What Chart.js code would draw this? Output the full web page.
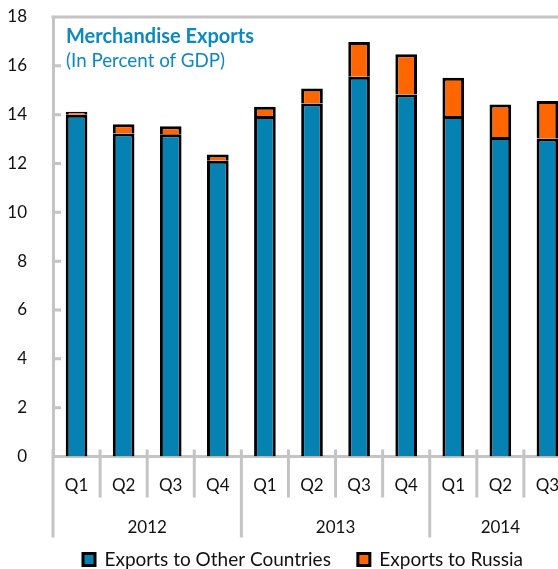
<!DOCTYPE html>
<html>
<head>
<meta charset="utf-8">
<script src="https://cdn.jsdelivr.net/npm/chart.js@4"></script>
<style>
  html, body { margin: 0; padding: 0; background: #fff; overflow: hidden; }
  #wrap { position: relative; width: 606px; height: 579px; }
  #title { position: absolute; left: 66px; top: 22px; color: #0d89c0; font-family: Lato, sans-serif; }
  #title .main { font-weight: bold; font-size: 20px; line-height: 26px; }
  #title .sub { font-size: 18.8px; line-height: 24px; }
</style>
</head>
<body>
<div id="wrap">
  <canvas id="exportsChart"></canvas>
  <div id="title">
    <div class="main">Merchandise Exports</div>
    <div class="sub">(In Percent of GDP)</div>
  </div>
</div>
<script>
const quarters = ["Q1", "Q2", "Q3", "Q4", "Q1", "Q2", "Q3", "Q4", "Q1", "Q2", "Q3"];
const years = ["2012", "2013", "2014"];
const quartersPerYear = [4, 4, 3];

const otherCountries = [14.0, 13.23, 13.2, 12.11, 13.95, 14.46, 15.55, 14.83, 13.95, 13.09, 13.02];
const russia = [0.12, 0.38, 0.33, 0.26, 0.37, 0.61, 1.43, 1.64, 1.56, 1.33, 1.54];

const yMin = 0;
const yMax = 18;
const yStep = 2;

const axisGray = "#c4c4c4";
const textColor = "#111111";

// separators under the axis, year labels, top frame and inner y ticks
const framePlugin = {
  id: "frame",
  afterDraw(chart) {
    const { ctx, chartArea, scales } = chart;
    const x = scales.x;
    const y = scales.y;
    ctx.save();
    ctx.strokeStyle = axisGray;
    ctx.lineWidth = 3;

    ctx.beginPath();
    ctx.moveTo(chartArea.left - 1.5, chartArea.top);
    ctx.lineTo(chartArea.right, chartArea.top);
    y.ticks.forEach((t) => {
      const py = y.getPixelForValue(t.value);
      ctx.moveTo(chartArea.left, py);
      ctx.lineTo(chartArea.left + 8, py);
    });
    ctx.stroke();

    const yearEdges = [0];
    quartersPerYear.forEach((n) => yearEdges.push(yearEdges[yearEdges.length - 1] + n));

    ctx.beginPath();
    for (let i = 0; i <= quarters.length; i++) {
      let px;
      if (i === 0) px = chartArea.left;
      else if (i === quarters.length) px = chartArea.right;
      else px = (x.getPixelForValue(i - 1) + x.getPixelForValue(i)) / 2;
      const long = yearEdges.includes(i);
      ctx.moveTo(px, chartArea.bottom - 7);
      ctx.lineTo(px, chartArea.bottom + (long ? 81 : 41));
    }
    ctx.stroke();

    ctx.fillStyle = textColor;
    ctx.font = "17px Lato";
    ctx.textAlign = "center";
    ctx.textBaseline = "middle";
    years.forEach((yr, k) => {
      const a = x.getPixelForValue(yearEdges[k]);
      const b = x.getPixelForValue(yearEdges[k + 1] - 1);
      ctx.fillText(yr, (a + b) / 2, chartArea.bottom + 71);
    });
    ctx.restore();
  },
};

Chart.defaults.font.family = "Lato";
Chart.defaults.font.size = 17;
Chart.defaults.color = textColor;

new Chart(document.getElementById("exportsChart"), {
  type: "bar",
  data: {
    labels: quarters,
    datasets: [
      {
        label: "Exports to Other Countries",
        data: otherCountries,
        backgroundColor: "#0582b2",
        borderColor: "#000000",
        borderWidth: 3,
        barPercentage: 0.46,
        categoryPercentage: 1,
      },
      {
        label: "Exports to Russia",
        data: russia,
        backgroundColor: "#ff6600",
        borderColor: "#000000",
        borderWidth: 3,
        barPercentage: 0.46,
        categoryPercentage: 1,
      },
    ],
  },
  options: {
    responsive: true,
    maintainAspectRatio: false,
    animation: false,
    layout: {
      padding: { top: 17, right: 0, left: 0, bottom: 0 },
    },
    plugins: {
      tooltip: { enabled: false },
      legend: {
        position: "bottom",
        labels: {
          boxWidth: 12,
          boxHeight: 12,
          padding: 27,
          color: textColor,
          font: { size: 19 },
        },
      },
    },
    scales: {
      x: {
        stacked: true,
        grid: { display: false },
        border: { display: true, color: axisGray, width: 3 },
        ticks: { padding: 11, maxRotation: 0, autoSkip: false },
        afterFit(scale) {
          scale.height = 66.5;
        },
      },
      y: {
        stacked: true,
        min: yMin,
        max: yMax,
        grid: { display: false },
        border: { display: true, color: axisGray, width: 3 },
        ticks: { stepSize: yStep, padding: 18 },
        afterFit(scale) {
          scale.width = 53;
          scale.paddingTop = 0;
          scale.paddingBottom = 0;
        },
      },
      // empty right-hand margin, cropped off by the window like the original
      yRight: {
        position: "right",
        grid: { display: false },
        border: { display: false },
        ticks: { display: false },
        afterFit(scale) {
          scale.width = 35;
          scale.paddingTop = 0;
          scale.paddingBottom = 0;
        },
      },
    },
  },
  plugins: [framePlugin],
});
</script>
</body>
</html>
